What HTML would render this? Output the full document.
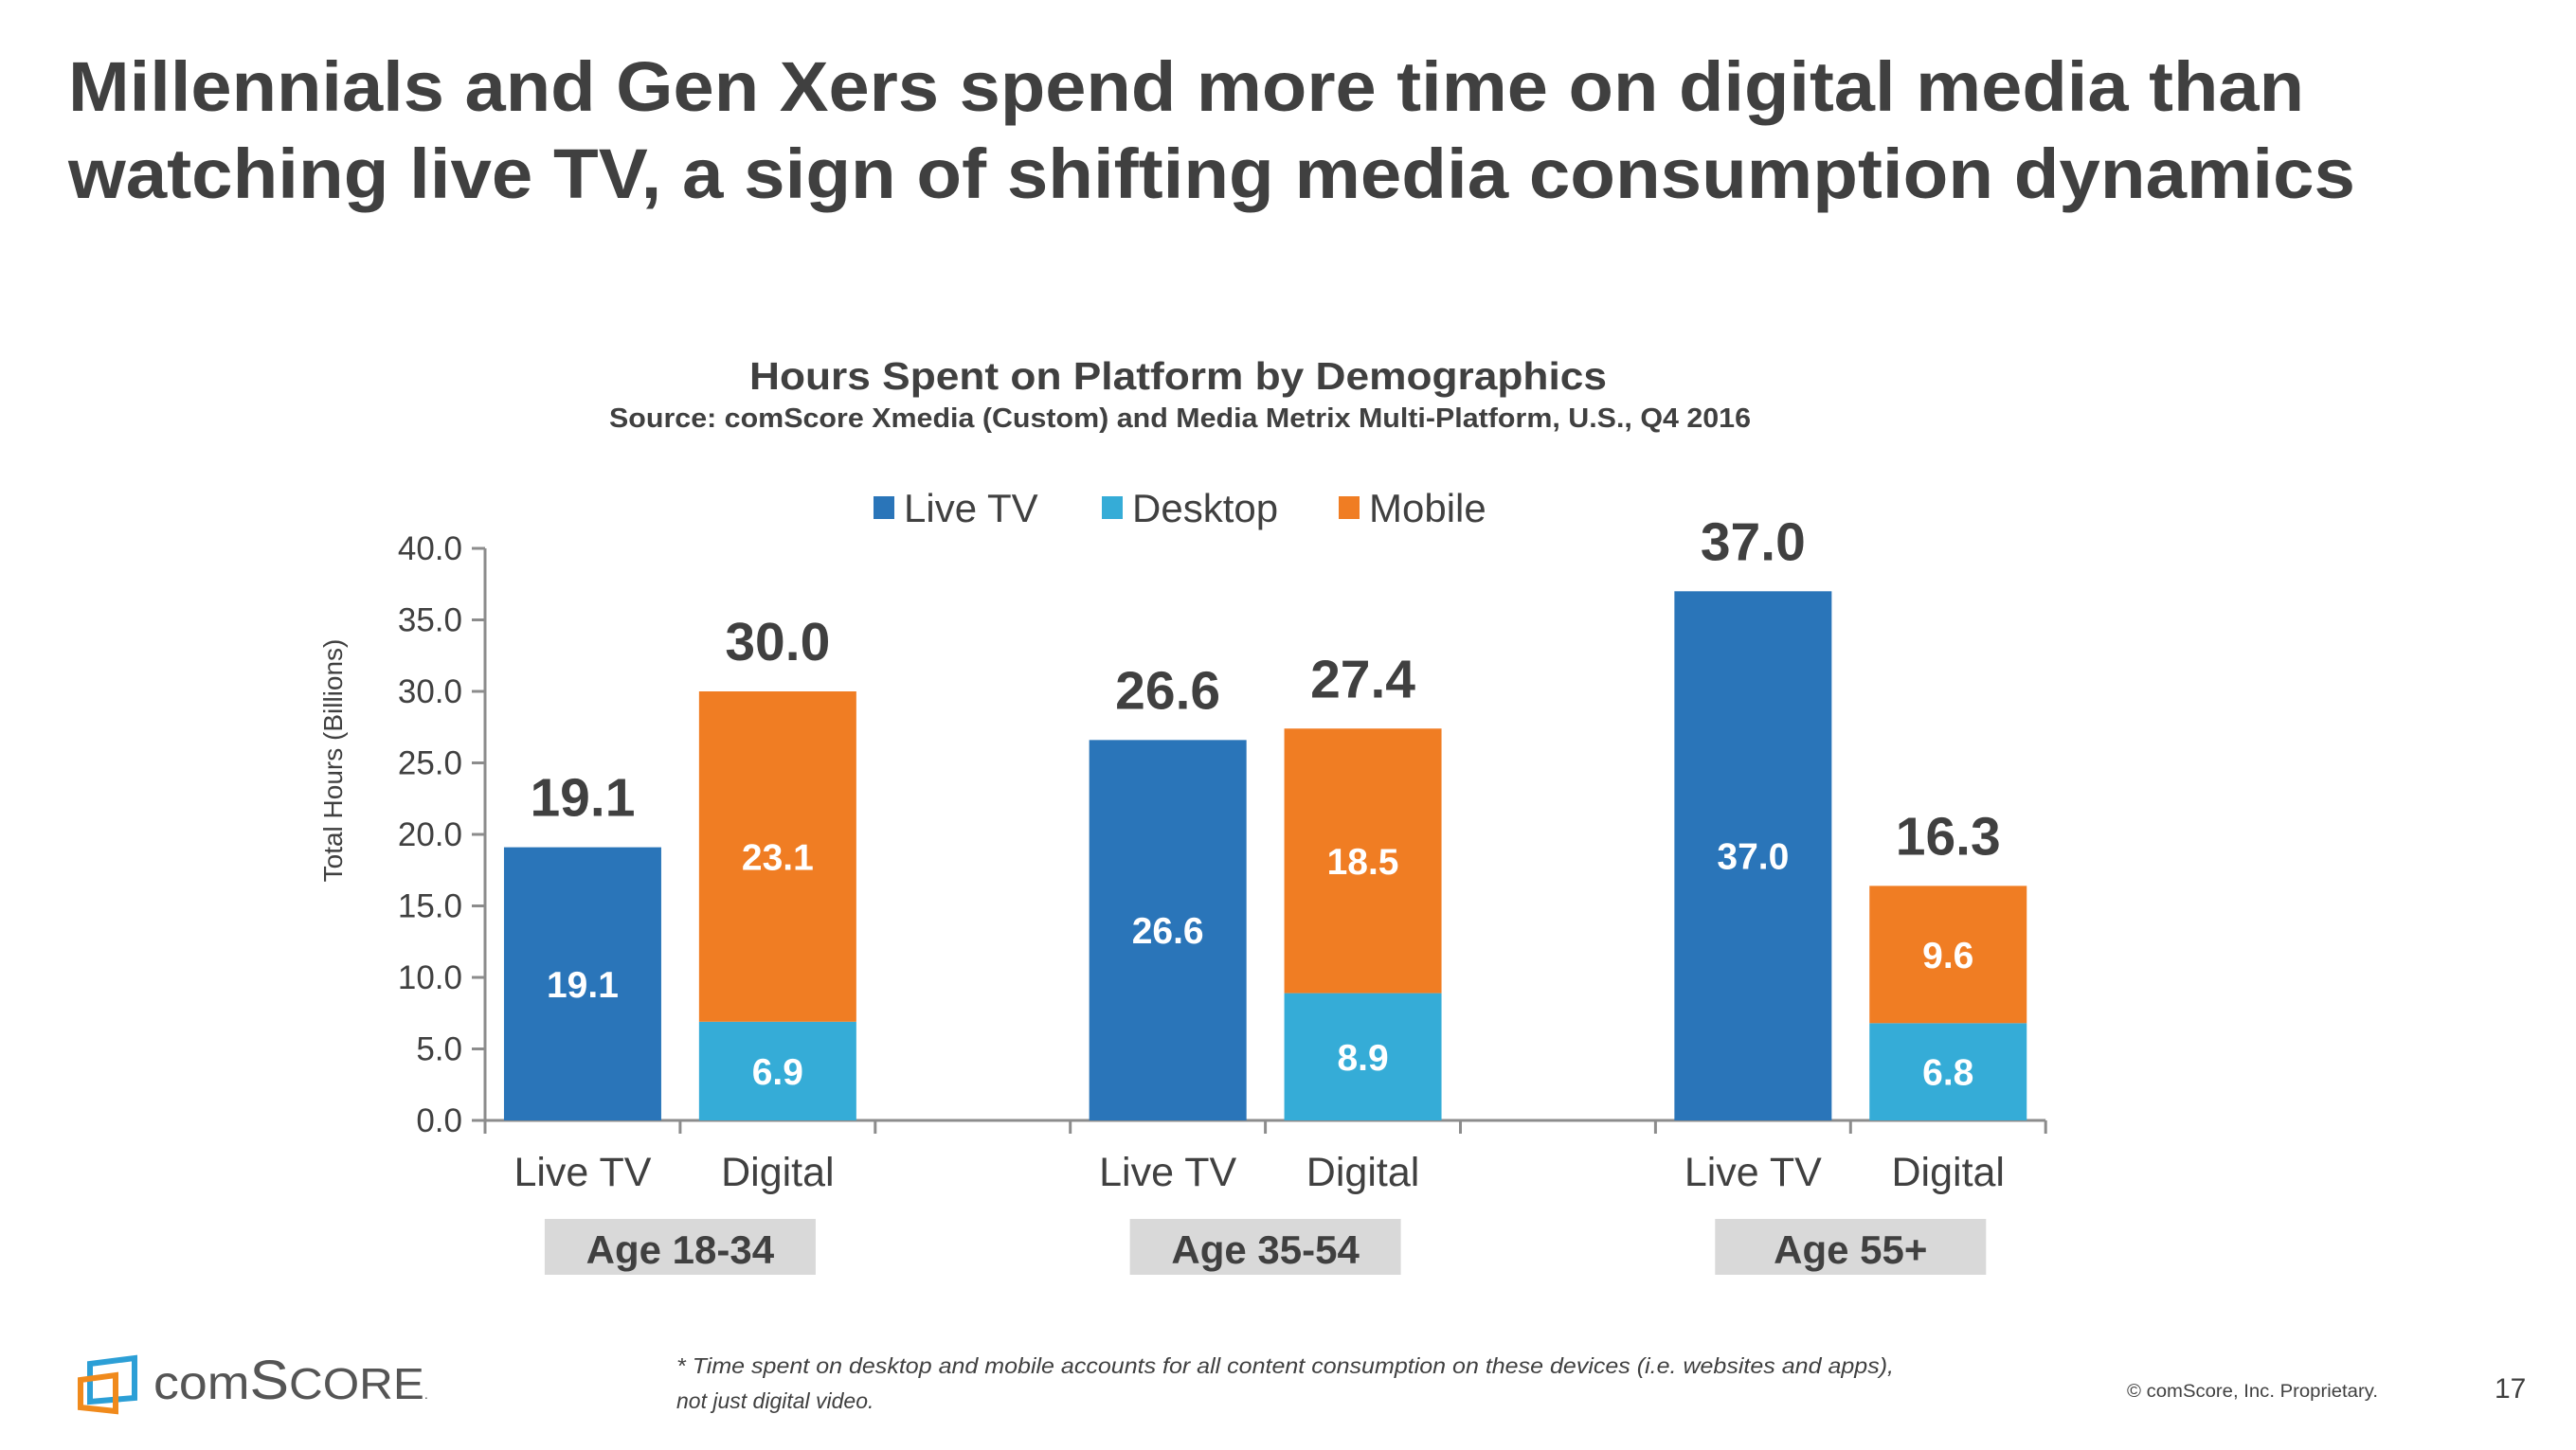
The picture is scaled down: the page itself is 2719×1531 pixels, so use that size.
<!DOCTYPE html>
<html><head><meta charset="utf-8"><style>
html,body{margin:0;padding:0;background:#fff;}
svg{display:block;font-family:"Liberation Sans",Arial,sans-serif;}
</style></head><body>
<svg id="chart" width="2719" height="1531" viewBox="0 0 2719 1531" xmlns="http://www.w3.org/2000/svg">
<g fill="#404040" font-weight="bold" font-size="74">
<text x="72" y="117" textLength="2360" lengthAdjust="spacingAndGlyphs">Millennials and Gen Xers spend more time on digital media than</text>
<text x="72" y="209" textLength="2414" lengthAdjust="spacingAndGlyphs">watching live TV, a sign of shifting media consumption dynamics</text>
</g>
<text x="791" y="411" textLength="905" lengthAdjust="spacingAndGlyphs" font-size="41" font-weight="bold" fill="#404040">Hours Spent on Platform by Demographics</text>
<text x="643" y="451" textLength="1205" lengthAdjust="spacingAndGlyphs" font-size="29" font-weight="bold" fill="#404040">Source: comScore Xmedia (Custom) and Media Metrix Multi-Platform, U.S., Q4 2016</text>
<g id="legend" font-size="41" fill="#404040"></g>
<g id="axes"></g>
<g id="bars"></g>
<text transform="translate(361,803) rotate(-90)" text-anchor="middle" font-size="28" fill="#404040">Total Hours (Billions)</text>
<g>
<polygon points="95,1440 142,1434 142,1476 95,1480" fill="none" stroke="#2c9fd6" stroke-width="6"/>
<polygon points="85,1457 122,1452 122,1490 85,1486" fill="none" stroke="#f08a1c" stroke-width="6"/>
<text x="162" y="1477" font-size="50" fill="#555" textLength="290" lengthAdjust="spacingAndGlyphs"><tspan>com</tspan><tspan font-size="58">S</tspan><tspan font-size="46">CORE</tspan><tspan font-size="14">.</tspan></text>
</g>
<g font-size="23" font-style="italic" fill="#404040">
<text x="714" y="1450" textLength="1285" lengthAdjust="spacingAndGlyphs">* Time  spent on desktop and mobile accounts for all content consumption on these devices (i.e. websites and apps),</text>
<text x="714" y="1487">not just digital video.</text>
</g>
<text x="2245" y="1475" font-size="19" fill="#404040" textLength="265" lengthAdjust="spacingAndGlyphs">© comScore, Inc. Proprietary.</text>
<text x="2633" y="1476" font-size="30" fill="#404040">17</text>
</svg>
<script>
const categories = ["Live TV","Digital","","Live TV","Digital","","Live TV","Digital"];
const liveTV  = [19.1, 0, 0, 26.6, 0, 0, 37.0, 0];
const desktop = [0, 6.9, 0, 0, 8.9, 0, 0, 6.8];
const mobile  = [0, 23.1, 0, 0, 18.5, 0, 0, 9.6];
const totals  = ["19.1","30.0","","26.6","27.4","","37.0","16.3"];
const yTicks  = [0,5,10,15,20,25,30,35,40];
const groups  = ["Age 18-34","Age 35-54","Age 55+"];
const seriesNames = ["Live TV","Desktop","Mobile"];

const NS="http://www.w3.org/2000/svg";
const X0=512, CW=205.9, Y0=1183, YMAX=40, PLOT_H=604, BW=166;
const colors=["#2a75b9","#35acd7","#f07d23"];
const yScale=v=>Y0-v/YMAX*PLOT_H;
const xScale=i=>X0+i*CW;
function mk(tag,attrs,parent,text){const e=document.createElementNS(NS,tag);for(const k in attrs)e.setAttribute(k,attrs[k]);if(text!==undefined)e.textContent=text;parent.appendChild(e);return e;}
const axes=document.getElementById('axes'), bars=document.getElementById('bars'), legend=document.getElementById('legend');

const ya=mk('line',{x1:X0,y1:yScale(YMAX),x2:X0,y2:Y0,stroke:'#8c8c8c','stroke-width':3},axes);


yTicks.forEach(t=>{
  const y=yScale(t);
  mk('line',{x1:X0-14,y1:y,x2:X0,y2:y,stroke:'#8c8c8c','stroke-width':3},axes);
  const tl=mk('text',{x:X0-24,y:y+12,'text-anchor':'end','font-size':35,fill:'#404040'},axes,t.toFixed(1));
  
  
});
const xa=mk('line',{x1:X0,y1:Y0,x2:xScale(categories.length),y2:Y0,stroke:'#8c8c8c','stroke-width':3},axes);


for(let i=0;i<=categories.length;i++){mk('line',{x1:xScale(i),y1:Y0,x2:xScale(i),y2:Y0+14,stroke:'#8c8c8c','stroke-width':3},axes);}
categories.forEach((c,i)=>{
  if(!c)return;
  const t=mk('text',{x:xScale(i)+CW/2,y:1252,'text-anchor':'middle','font-size':43,fill:'#404040'},axes,c);
  
  
});
groups.forEach((g,k)=>{
  const cx=xScale(k*3+1);
  const r=mk('rect',{x:cx-143,y:1287,width:286,height:59,fill:'#d9d9d9'},axes);
  
  
  const t=mk('text',{x:cx,y:1334,'text-anchor':'middle','font-size':42,'font-weight':'bold',fill:'#404040'},axes,g);
  
  
});
const series=[liveTV,desktop,mobile];
categories.forEach((c,i)=>{
  if(!c)return;
  const x=xScale(i)+(CW-BW)/2;
  let base=0;
  series.forEach((s,si)=>{
    const v=s[i]; if(!v)return;
    const y1=yScale(base+v), y0=yScale(base);
    const r=mk('rect',{x:x,y:y1,width:BW,height:y0-y1,fill:colors[si]},bars);
    
    
    const t=mk('text',{x:x+BW/2,y:(y0+y1)/2+14,'text-anchor':'middle','font-size':39,'font-weight':'bold',fill:'#fff'},bars,v.toFixed(1));
    
    
    base+=v;
  });
  const tt=mk('text',{x:x+BW/2,y:yScale(base)-33,'text-anchor':'middle','font-size':57,'font-weight':'bold',fill:'#404040'},bars,totals[i]);
  
  
});
const lx=[922,1163,1413];
seriesNames.forEach((n,i)=>{
  const g=mk('g',{},legend);
  
  
  mk('rect',{x:lx[i],y:524,width:22,height:24,fill:colors[i]},g);
  mk('text',{x:lx[i]+32,y:551,'font-size':42,fill:'#404040'},g,n);
});
</script>
</body></html>
